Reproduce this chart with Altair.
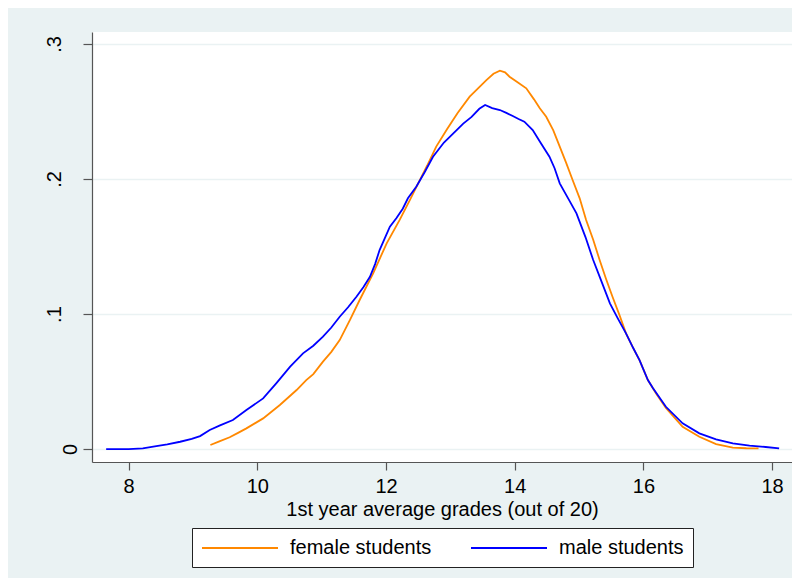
import altair as alt
import pandas as pd

# ---- data ----
male_grade = [7.65, 8.0, 8.22, 8.43, 8.6, 8.8, 8.98, 9.11, 9.26, 9.42, 9.62, 9.83,
              10.09, 10.3, 10.51, 10.71, 10.87, 11.02, 11.15, 11.28, 11.41, 11.54,
              11.65, 11.75, 11.83, 11.9, 11.98, 12.06, 12.16, 12.26, 12.34, 12.47,
              12.6, 12.73, 12.9, 13.07, 13.2, 13.33, 13.45, 13.54, 13.65, 13.77,
              13.87, 13.97, 14.06, 14.15, 14.28, 14.4, 14.54, 14.62, 14.7, 14.85,
              14.96, 15.1, 15.22, 15.35, 15.48, 15.6, 15.73, 15.84, 15.94, 16.07,
              16.15, 16.35, 16.61, 16.87, 17.13, 17.39, 17.65, 17.9, 18.11]
male_density = [0.0, 0.0, 0.0005, 0.0022, 0.0035, 0.0054, 0.0075, 0.0096, 0.0141,
                 0.0175, 0.0215, 0.0289, 0.0375, 0.049, 0.061, 0.0709, 0.0765, 0.0832,
                 0.090, 0.098, 0.105, 0.1128, 0.120, 0.1276, 0.137, 0.1474, 0.156,
                 0.1647, 0.171, 0.178, 0.1857, 0.1943, 0.205, 0.2165, 0.227, 0.235,
                 0.241, 0.246, 0.252, 0.2548, 0.2525, 0.2511, 0.249, 0.2467, 0.2445,
                 0.2425, 0.2363, 0.227, 0.2165, 0.208, 0.1968, 0.184, 0.1746, 0.157,
                 0.14, 0.124, 0.1079, 0.097, 0.0857, 0.075, 0.0659, 0.0511, 0.045,
                 0.0313, 0.019, 0.0116, 0.0072, 0.0042, 0.0025, 0.0015, 0.0005]

female_grade = [9.27, 9.4, 9.57, 9.7, 9.83, 10.09, 10.35, 10.61, 10.76, 10.87, 11.02,
                11.15, 11.28, 11.44, 11.59, 11.8, 12.01, 12.21, 12.37, 12.5, 12.64,
                12.78, 12.95, 13.11, 13.3, 13.45, 13.56, 13.67, 13.77, 13.85, 13.92,
                14.05, 14.18, 14.3, 14.39, 14.49, 14.6, 14.7, 14.8, 14.9, 15.01,
                15.11, 15.22, 15.32, 15.42, 15.52, 15.63, 15.73, 15.85, 15.94, 16.07,
                16.2, 16.35, 16.61, 16.87, 17.13, 17.39, 17.6, 17.79]
female_density = [0.003, 0.0055, 0.0087, 0.012, 0.0153, 0.0227, 0.0326, 0.0437,
                   0.0511, 0.0555, 0.0647, 0.072, 0.0807, 0.0956, 0.1104, 0.1301,
                   0.1524, 0.1696, 0.1844, 0.1968, 0.21, 0.224, 0.237, 0.2487, 0.261,
                   0.268, 0.2733, 0.278, 0.2802, 0.279, 0.2758, 0.2715, 0.2672, 0.259,
                   0.2524, 0.2461, 0.236, 0.224, 0.212, 0.1993, 0.1857, 0.1696, 0.155,
                   0.14, 0.126, 0.1128, 0.099, 0.0857, 0.074, 0.0659, 0.0511, 0.041,
                   0.0305, 0.0165, 0.0091, 0.0037, 0.001, 0.0006, 0.0005]

series_names = ["female students", "male students"]
series_colors = ["#ff8800", "#0000ff"]
x_ticks = [8, 10, 12, 14, 16, 18]
y_ticks = [0, 0.1, 0.2, 0.3]
x_title = "1st year average grades (out of 20)"

rows = []
for g, d in zip(female_grade, female_density):
    rows.append({"grade": g, "density": d, "group": series_names[0], "o": len(rows)})
for g, d in zip(male_grade, male_density):
    rows.append({"grade": g, "density": d, "group": series_names[1], "o": len(rows)})
df = pd.DataFrame(rows)

FONT = "Liberation Sans"
BG = "#eaf2f3"
AX = "#555555"

chart = alt.Chart(df).mark_line(strokeWidth=1.8).encode(
    x=alt.X("grade:Q",
            scale=alt.Scale(domain=[7.43, 18.31], nice=False, zero=False),
            axis=alt.Axis(values=x_ticks, title=x_title, tickSize=8, labelPadding=6,
                          grid=False, domainColor=AX, tickColor=AX, tickWidth=1.2,
                          domainWidth=1.2,
                          labelFont=FONT, labelFontSize=20, labelColor="black",
                          titleFont=FONT, titleFontSize=20, titleFontWeight="normal",
                          titleColor="black", titleBaseline="alphabetic", titleY=53)),
    y=alt.Y("density:Q",
            scale=alt.Scale(domain=[-0.0096, 0.3089], nice=False, zero=False),
            axis=alt.Axis(values=y_ticks, title=None, tickSize=9, labelPadding=23,
                          labelAngle=270, labelAlign="center",
                          labelBaseline={"condition": {"test": "datum.value == 0", "value": "top"},
                                         "value": "alphabetic"},
                          labelExpr="datum.value == 0 ? '0' : replace(format(datum.value, '.1f'), '0.', '.')",
                          grid=True, gridColor=BG, gridWidth=1.5,
                          domainColor=AX, tickColor=AX, tickWidth=1.2, domainWidth=1.2,
                          labelFont=FONT, labelFontSize=20, labelColor="black")),
    color=alt.Color("group:N",
                    scale=alt.Scale(domain=series_names, range=series_colors),
                    legend=alt.Legend(title=None, orient="none", legendX=100, legendY=496,
                                      direction="horizontal", columns=2,
                                      symbolType="M-1,0H6.6", symbolSize=400,
                                      symbolStrokeWidth=2, labelFont=FONT,
                                      labelFontSize=20, labelColor="black",
                                      labelOffset=67, columnPadding=35, padding=9,
                                      fillColor="white", strokeColor="#222222",
                                      cornerRadius=0)),
    order="o:Q",
).properties(
    width=700,
    height=430,
    background=BG,
    autosize=alt.AutoSizeParams(type="none"),
    padding={"left": 84, "top": 24, "right": 0, "bottom": 116},
).configure_view(fill="white", stroke=None)

chart.save("out.html", embed_options={"renderer": "svg", "actions": False})
